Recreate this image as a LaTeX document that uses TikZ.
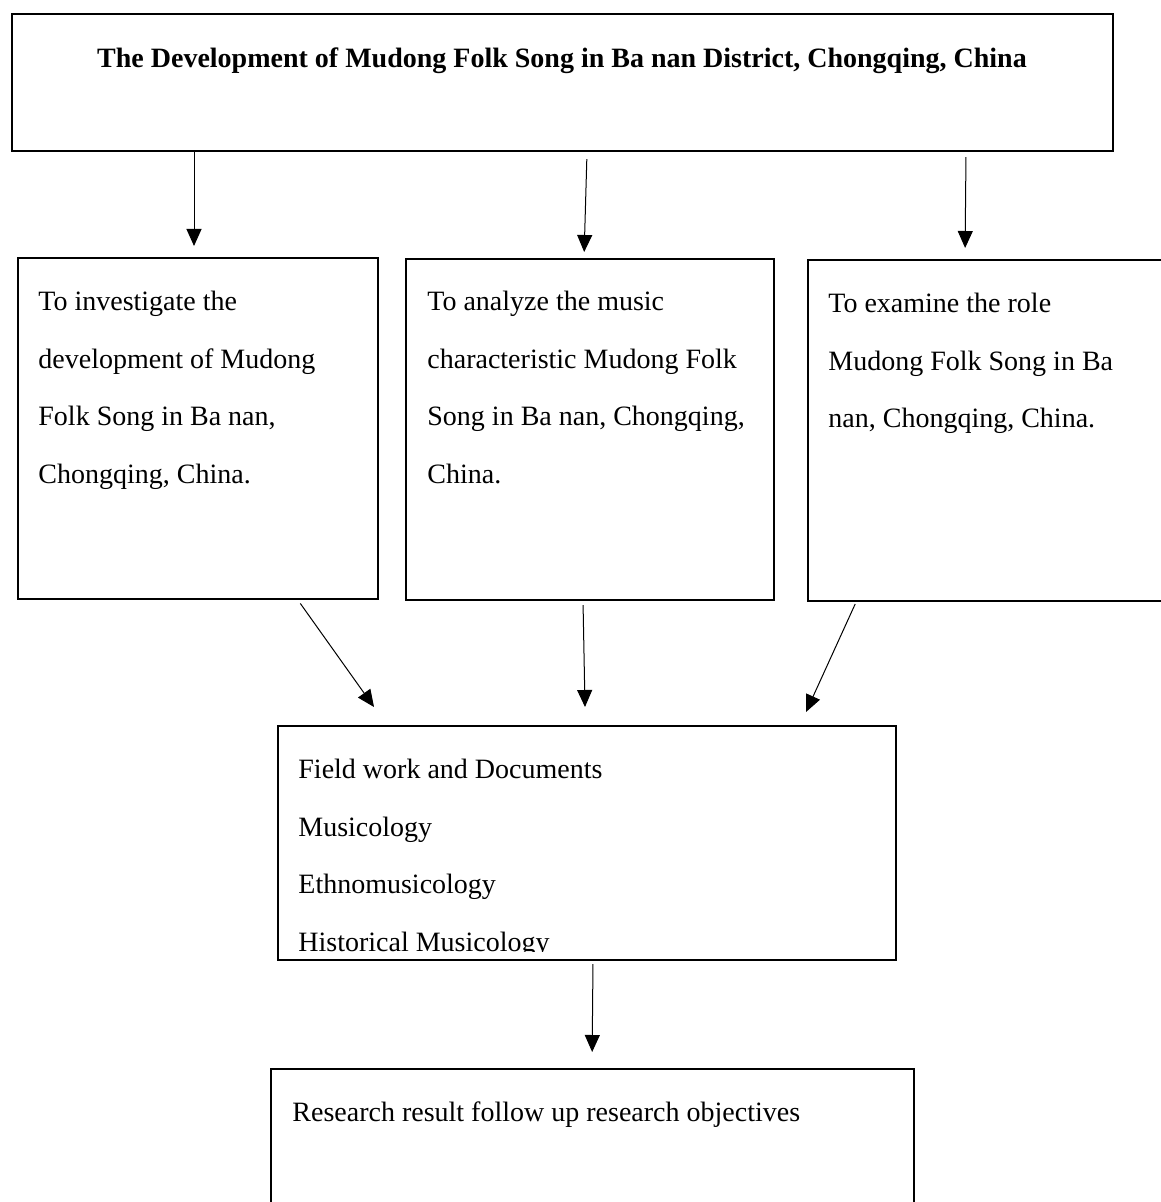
\documentclass[tikz,border=0pt]{standalone}
\usepackage{fontspec}
\setmainfont{Liberation Serif}
\usetikzlibrary{arrows.meta}
\begin{document}
\begin{tikzpicture}[x=0.5pt,y=-0.5pt,
  box/.style={draw, line width=1.1pt, rectangle, inner sep=0pt, anchor=north west},
  txt/.style={anchor=base west, inner sep=0pt, font=\fontsize{14pt}{28.75pt}\selectfont, align=flush left, text width=#1},
  arr/.style={line width=0.5pt, -{Triangle[length=8.5pt,width=7.5pt]}},
]
\useasboundingbox[fill=white] (0,0) rectangle (1160,1202);

% boxes
\node[box, minimum width=550.5pt, minimum height=68.5pt] (top) at (11,13) {};
\node[box, minimum width=180pt, minimum height=170.5pt] (b1) at (17,257) {};
\node[box, minimum width=184pt, minimum height=170.5pt] (b2) at (405,258) {};
\node[box, minimum width=190pt, minimum height=170.5pt] (b3) at (807,259) {};
\node[box, minimum width=309pt, minimum height=117pt] (b4) at (277,725) {};
\node[box, minimum width=321.5pt, minimum height=90pt] (b5) at (270,1068) {};

% texts
\node[anchor=base, inner sep=0pt, font=\fontsize{14pt}{17pt}\selectfont\bfseries] (title) at (562,68)
  {The Development of Mudong Folk Song in Ba nan District, Chongqing, China};
\node[txt=170pt] (t1) at (38,311) {To investigate the\\development of Mudong\\Folk Song in Ba nan,\\Chongqing, China.};
\node[txt=170pt] (t2) at (427,311) {To analyze the music\\characteristic Mudong Folk\\Song in Ba nan, Chongqing,\\China.};
\node[txt=170pt] (t3) at (828,313) {To examine the role\\Mudong Folk Song in Ba\\nan, Chongqing, China.};
\begin{scope}
\clip (0,0) rectangle (1160,951);
\node[txt=290pt] (t4) at (298,778.5) {Field work and Documents\\Musicology\\Ethnomusicology\\Historical Musicology};
\end{scope}
\node[txt=310pt] (t5) at (292,1121) {Research result follow up research objectives};

% arrow tips
\coordinate (d1) at (374,707);
\coordinate (d2) at (585,707);
\coordinate (d3) at (806,712);

% connectors
\draw[arr, shorten >=5.5pt] (194,0 |- top.south) -- (194,0 |- b1.north);
\draw[arr, shorten <=3.5pt, shorten >=3pt] (587,0 |- top.south) -- (584,0 |- b2.north);
\draw[arr, shorten <=2.5pt, shorten >=5.5pt] (966,0 |- top.south) -- (965,0 |- b3.north);
\draw[arr, shorten <=2pt] (298,0 |- b1.south) -- (d1);
\draw[arr, shorten <=2pt] (583,0 |- b2.south) -- (d2);
\draw[arr, shorten <=1pt] (856,0 |- b3.south) -- (d3);
\draw[arr, shorten <=1.5pt, shorten >=8pt] (593,0 |- b4.south) -- (592,0 |- b5.north);
\end{tikzpicture}
\end{document}
